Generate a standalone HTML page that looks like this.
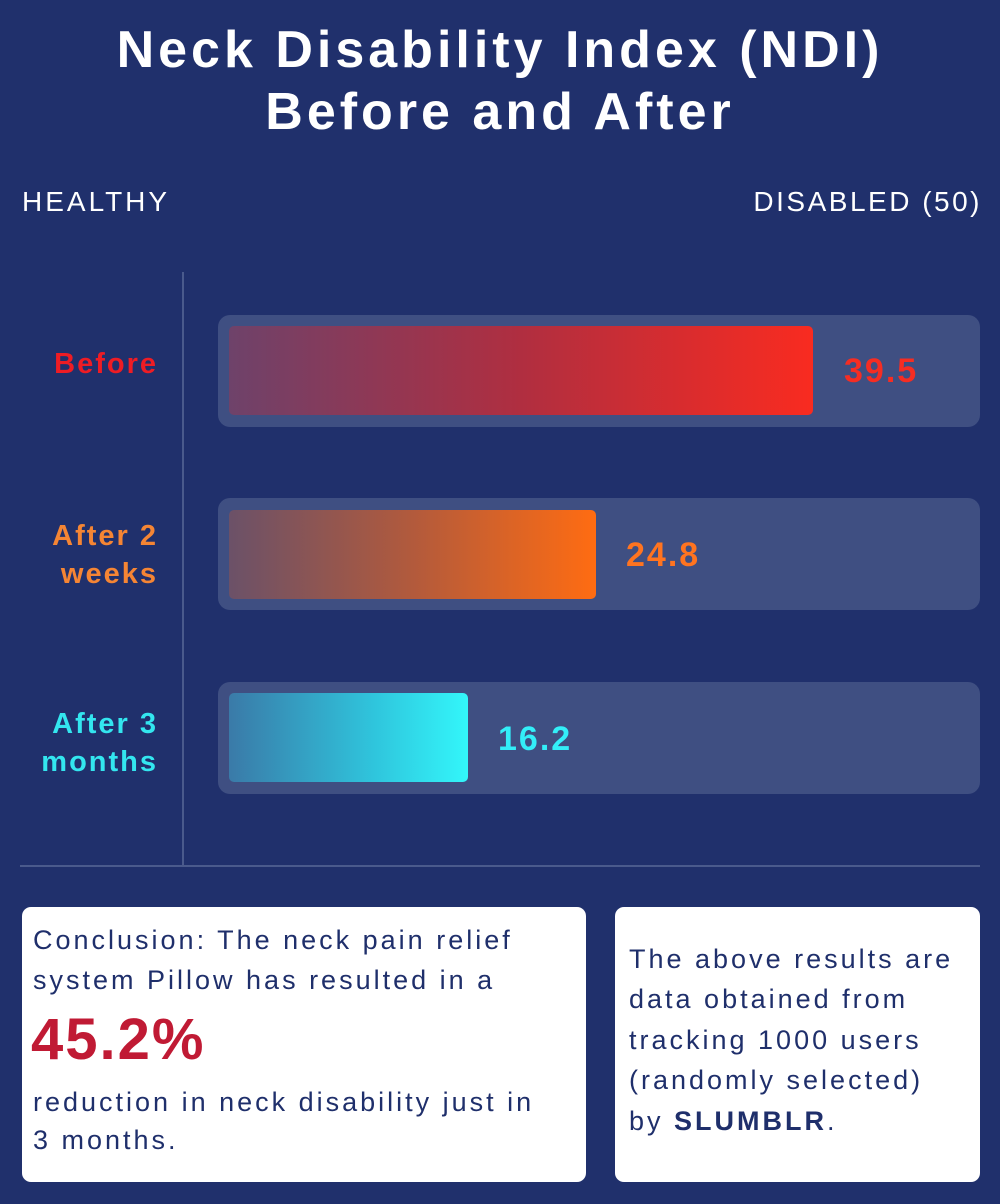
<!DOCTYPE html>
<html><head><style>
body{margin:0;width:1000px;height:1204px;background:#20306c;font-family:"Liberation Sans",sans-serif;position:relative;overflow:hidden}
.a{position:absolute;white-space:nowrap}
.t{left:0;width:1000px;text-align:center;color:#fff;font-weight:bold;font-size:52px;line-height:62px;letter-spacing:4px}
.track{position:absolute;left:218px;width:762px;height:112px;background:#3f4f82;border-radius:12px}
.bar{position:absolute;left:229px;height:89px;border-radius:5px}
.val{position:absolute;font-weight:bold;font-size:34px;line-height:40px;letter-spacing:2px}
.lab{position:absolute;right:842px;text-align:right;font-weight:bold;font-size:29px;line-height:38px;letter-spacing:2px}
.box{position:absolute;background:#fff;border-radius:9px;top:907px;height:275px}
.bt{position:absolute;color:#1f2f6b;font-size:27px;line-height:40px;white-space:nowrap;letter-spacing:3px}
</style></head><body>
<div class="a t" style="top:19px">Neck Disability Index (NDI)</div>
<div class="a t" style="top:81px">Before and After</div>
<div class="a" style="left:22px;top:186px;color:#fff;font-size:28px;letter-spacing:3px">HEALTHY</div>
<div class="a" style="right:18px;top:186px;color:#fff;font-size:28px;letter-spacing:2.5px">DISABLED (50)</div>
<div class="a" style="left:182px;top:272px;width:2px;height:594px;background:#4a5a8c"></div>
<div class="a" style="left:20px;top:865px;width:960px;height:2px;background:#4a5a8c"></div>

<div class="track" style="top:315px"></div>
<div class="bar" style="top:326px;width:584px;background:linear-gradient(90deg,#6e426a,#b02e40 50%,#f92b20)"></div>
<div class="val" style="left:844px;top:351px;color:#f52d23">39.5</div>
<div class="lab" style="top:345px;color:#ee1c24">Before</div>

<div class="track" style="top:498px"></div>
<div class="bar" style="top:510px;width:367px;background:linear-gradient(90deg,#6b5168,#b25a3c 50%,#ff6c12)"></div>
<div class="val" style="left:626px;top:535px;color:#ff7420">24.8</div>
<div class="lab" style="top:517px;color:#f58534">After 2<br>weeks</div>

<div class="track" style="top:682px"></div>
<div class="bar" style="top:693px;width:239px;background:linear-gradient(90deg,#3a7aa8,#2fc4dc 60%,#33f6fa)"></div>
<div class="val" style="left:498px;top:719px;color:#33eef8">16.2</div>
<div class="lab" style="top:705px;color:#33e6ef">After 3<br>months</div>

<div class="box" style="left:22px;width:564px"></div>
<div class="bt" style="left:33px;top:920px">Conclusion: The neck pain relief</div>
<div class="bt" style="left:33px;top:960px">system Pillow has resulted in a</div>
<div class="bt" style="left:31px;top:1006px;color:#c01a34;font-weight:bold;font-size:58px;line-height:68px;letter-spacing:2px">45.2%</div>
<div class="bt" style="left:33px;top:1082px">reduction in neck disability just in</div>
<div class="bt" style="left:33px;top:1120px">3 months.</div>

<div class="box" style="left:615px;width:365px"></div>
<div class="bt" style="left:629px;top:939px">The above results are</div>
<div class="bt" style="left:629px;top:979px">data obtained from</div>
<div class="bt" style="left:629px;top:1020px">tracking 1000 users</div>
<div class="bt" style="left:629px;top:1060px">(randomly selected)</div>
<div class="bt" style="left:629px;top:1101px">by <b>SLUMBLR</b>.</div>
</body></html>
